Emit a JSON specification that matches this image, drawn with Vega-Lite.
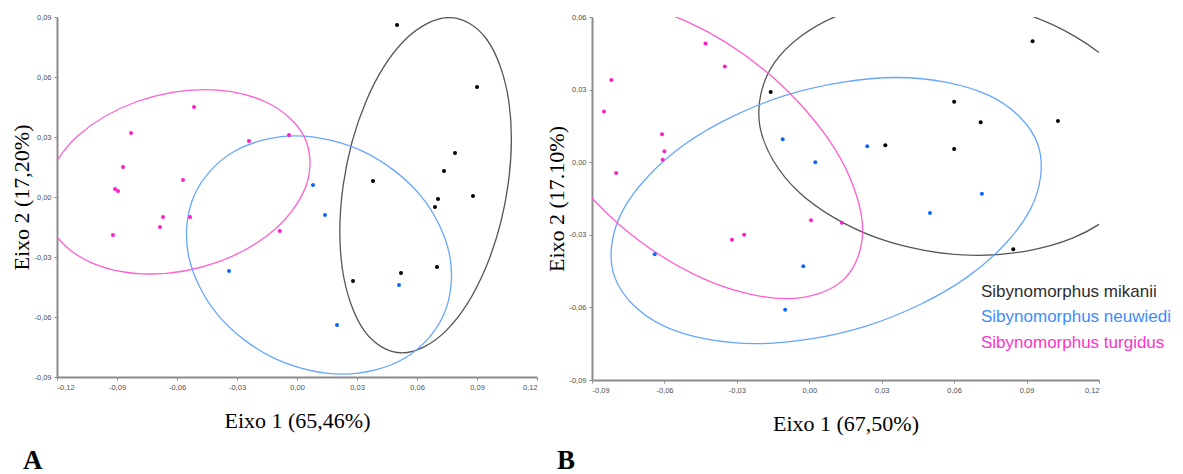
{
  "$schema": "https://vega.github.io/schema/vega-lite/v6.json",
  "padding": {"left": 10, "top": 13, "right": 0, "bottom": 0},
  "background": "#ffffff",
  "config": {
    "locale": {"number": {"decimal": ",", "thousands": ".", "grouping": [3], "currency": ["", ""], "minus": "-"}},
    "view": {"stroke": null},
    "axis": {
      "grid": false,
      "domainColor": "#8c8c8c",
      "domainWidth": 2,
      "tickColor": "#8c8c8c",
      "tickSize": 3,
      "tickWidth": 1,
      "labelFont": "Liberation Sans",
      "labelFontSize": 7.5,
      "labelColor": "#505050",
      "titleFont": "Liberation Serif",
      "titleFontSize": 22,
      "titleFontWeight": "normal",
      "titleColor": "#000000"
    },
    "axisX": {"labelPadding": 3, "titlePadding": 20},
    "axisY": {"labelPadding": 3, "titlePadding": 0},
    "legend": {
      "labelFont": "Liberation Sans",
      "labelFontSize": 17,
      "labelLimit": 0,
      "symbolSize": 0,
      "symbolOpacity": 0,
      "symbolStrokeWidth": 0,
      "labelOffset": 0,
      "rowPadding": 7.5,
      "padding": 0
    }
  },
  "datasets": {
    "pontosA": [
      {"especie": "Sibynomorphus mikanii", "eixo1": 0.050, "eixo2": 0.086},
      {"especie": "Sibynomorphus mikanii", "eixo1": 0.090, "eixo2": 0.055},
      {"especie": "Sibynomorphus mikanii", "eixo1": 0.079, "eixo2": 0.022},
      {"especie": "Sibynomorphus mikanii", "eixo1": 0.0735, "eixo2": 0.013},
      {"especie": "Sibynomorphus mikanii", "eixo1": 0.038, "eixo2": 0.008},
      {"especie": "Sibynomorphus mikanii", "eixo1": 0.088, "eixo2": 0.0005},
      {"especie": "Sibynomorphus mikanii", "eixo1": 0.0705, "eixo2": -0.001},
      {"especie": "Sibynomorphus mikanii", "eixo1": 0.069, "eixo2": -0.005},
      {"especie": "Sibynomorphus mikanii", "eixo1": 0.070, "eixo2": -0.035},
      {"especie": "Sibynomorphus mikanii", "eixo1": 0.052, "eixo2": -0.038},
      {"especie": "Sibynomorphus mikanii", "eixo1": 0.028, "eixo2": -0.042},
      {"especie": "Sibynomorphus neuwiedi", "eixo1": 0.008, "eixo2": 0.006},
      {"especie": "Sibynomorphus neuwiedi", "eixo1": 0.014, "eixo2": -0.009},
      {"especie": "Sibynomorphus neuwiedi", "eixo1": -0.034, "eixo2": -0.037},
      {"especie": "Sibynomorphus neuwiedi", "eixo1": 0.051, "eixo2": -0.044},
      {"especie": "Sibynomorphus neuwiedi", "eixo1": 0.020, "eixo2": -0.064},
      {"especie": "Sibynomorphus turgidus", "eixo1": -0.0515, "eixo2": 0.045},
      {"especie": "Sibynomorphus turgidus", "eixo1": -0.083, "eixo2": 0.032},
      {"especie": "Sibynomorphus turgidus", "eixo1": -0.024, "eixo2": 0.028},
      {"especie": "Sibynomorphus turgidus", "eixo1": -0.004, "eixo2": 0.031},
      {"especie": "Sibynomorphus turgidus", "eixo1": -0.087, "eixo2": 0.015},
      {"especie": "Sibynomorphus turgidus", "eixo1": -0.057, "eixo2": 0.0085},
      {"especie": "Sibynomorphus turgidus", "eixo1": -0.091, "eixo2": 0.004},
      {"especie": "Sibynomorphus turgidus", "eixo1": -0.0895, "eixo2": 0.003},
      {"especie": "Sibynomorphus turgidus", "eixo1": -0.067, "eixo2": -0.010},
      {"especie": "Sibynomorphus turgidus", "eixo1": -0.0535, "eixo2": -0.010},
      {"especie": "Sibynomorphus turgidus", "eixo1": -0.0685, "eixo2": -0.015},
      {"especie": "Sibynomorphus turgidus", "eixo1": -0.092, "eixo2": -0.019},
      {"especie": "Sibynomorphus turgidus", "eixo1": -0.0086, "eixo2": -0.017}
    ],
    "elipsesA": [
      {"especie": "Sibynomorphus mikanii", "ordem": 0, "eixo1": 0.0761, "eixo2": 0.0897},
      {"especie": "Sibynomorphus mikanii", "ordem": 1, "eixo1": 0.0951, "eixo2": 0.0785},
      {"especie": "Sibynomorphus mikanii", "ordem": 2, "eixo1": 0.1059, "eixo2": 0.0478},
      {"especie": "Sibynomorphus mikanii", "ordem": 3, "eixo1": 0.1055, "eixo2": 0.0059},
      {"especie": "Sibynomorphus mikanii", "ordem": 4, "eixo1": 0.0941, "eixo2": -0.036},
      {"especie": "Sibynomorphus mikanii", "ordem": 5, "eixo1": 0.0747, "eixo2": -0.0667},
      {"especie": "Sibynomorphus mikanii", "ordem": 6, "eixo1": 0.0525, "eixo2": -0.0779},
      {"especie": "Sibynomorphus mikanii", "ordem": 7, "eixo1": 0.0335, "eixo2": -0.0667},
      {"especie": "Sibynomorphus mikanii", "ordem": 8, "eixo1": 0.0227, "eixo2": -0.036},
      {"especie": "Sibynomorphus mikanii", "ordem": 9, "eixo1": 0.0231, "eixo2": 0.0059},
      {"especie": "Sibynomorphus mikanii", "ordem": 10, "eixo1": 0.0345, "eixo2": 0.0478},
      {"especie": "Sibynomorphus mikanii", "ordem": 11, "eixo1": 0.0539, "eixo2": 0.0785},
      {"especie": "Sibynomorphus neuwiedi", "ordem": 0, "eixo1": -0.0007, "eixo2": 0.0306},
      {"especie": "Sibynomorphus neuwiedi", "ordem": 1, "eixo1": 0.0335, "eixo2": 0.0226},
      {"especie": "Sibynomorphus neuwiedi", "ordem": 2, "eixo1": 0.0617, "eixo2": 0.0008},
      {"especie": "Sibynomorphus neuwiedi", "ordem": 3, "eixo1": 0.0763, "eixo2": -0.029},
      {"especie": "Sibynomorphus neuwiedi", "ordem": 4, "eixo1": 0.0734, "eixo2": -0.0588},
      {"especie": "Sibynomorphus neuwiedi", "ordem": 5, "eixo1": 0.0538, "eixo2": -0.0806},
      {"especie": "Sibynomorphus neuwiedi", "ordem": 6, "eixo1": 0.0227, "eixo2": -0.0886},
      {"especie": "Sibynomorphus neuwiedi", "ordem": 7, "eixo1": -0.0115, "eixo2": -0.0806},
      {"especie": "Sibynomorphus neuwiedi", "ordem": 8, "eixo1": -0.0397, "eixo2": -0.0588},
      {"especie": "Sibynomorphus neuwiedi", "ordem": 9, "eixo1": -0.0543, "eixo2": -0.029},
      {"especie": "Sibynomorphus neuwiedi", "ordem": 10, "eixo1": -0.0514, "eixo2": 0.0008},
      {"especie": "Sibynomorphus neuwiedi", "ordem": 11, "eixo1": -0.0317, "eixo2": 0.0226},
      {"especie": "Sibynomorphus turgidus", "ordem": 0, "eixo1": -0.0463, "eixo2": 0.0537},
      {"especie": "Sibynomorphus turgidus", "ordem": 1, "eixo1": -0.0156, "eixo2": 0.0475},
      {"especie": "Sibynomorphus turgidus", "ordem": 2, "eixo1": 0.0033, "eixo2": 0.0307},
      {"especie": "Sibynomorphus turgidus", "ordem": 3, "eixo1": 0.0052, "eixo2": 0.0076},
      {"especie": "Sibynomorphus turgidus", "ordem": 4, "eixo1": -0.0103, "eixo2": -0.0155},
      {"especie": "Sibynomorphus turgidus", "ordem": 5, "eixo1": -0.039, "eixo2": -0.0323},
      {"especie": "Sibynomorphus turgidus", "ordem": 6, "eixo1": -0.0733, "eixo2": -0.0385},
      {"especie": "Sibynomorphus turgidus", "ordem": 7, "eixo1": -0.104, "eixo2": -0.0323},
      {"especie": "Sibynomorphus turgidus", "ordem": 8, "eixo1": -0.1229, "eixo2": -0.0155},
      {"especie": "Sibynomorphus turgidus", "ordem": 9, "eixo1": -0.1248, "eixo2": 0.0076},
      {"especie": "Sibynomorphus turgidus", "ordem": 10, "eixo1": -0.1094, "eixo2": 0.0307},
      {"especie": "Sibynomorphus turgidus", "ordem": 11, "eixo1": -0.0806, "eixo2": 0.0475}
    ],
    "pontosB": [
      {"especie": "Sibynomorphus mikanii", "eixo1": 0.0925, "eixo2": 0.050},
      {"especie": "Sibynomorphus mikanii", "eixo1": -0.016, "eixo2": 0.029},
      {"especie": "Sibynomorphus mikanii", "eixo1": 0.060, "eixo2": 0.025},
      {"especie": "Sibynomorphus mikanii", "eixo1": 0.071, "eixo2": 0.0165},
      {"especie": "Sibynomorphus mikanii", "eixo1": 0.103, "eixo2": 0.017},
      {"especie": "Sibynomorphus mikanii", "eixo1": 0.0315, "eixo2": 0.007},
      {"especie": "Sibynomorphus mikanii", "eixo1": 0.060, "eixo2": 0.0055},
      {"especie": "Sibynomorphus mikanii", "eixo1": 0.0845, "eixo2": -0.036},
      {"especie": "Sibynomorphus neuwiedi", "eixo1": -0.011, "eixo2": 0.0095},
      {"especie": "Sibynomorphus neuwiedi", "eixo1": 0.0025, "eixo2": 0.000},
      {"especie": "Sibynomorphus neuwiedi", "eixo1": 0.024, "eixo2": 0.0066},
      {"especie": "Sibynomorphus neuwiedi", "eixo1": 0.0715, "eixo2": -0.013},
      {"especie": "Sibynomorphus neuwiedi", "eixo1": 0.050, "eixo2": -0.021},
      {"especie": "Sibynomorphus neuwiedi", "eixo1": -0.064, "eixo2": -0.038},
      {"especie": "Sibynomorphus neuwiedi", "eixo1": -0.0025, "eixo2": -0.043},
      {"especie": "Sibynomorphus neuwiedi", "eixo1": -0.010, "eixo2": -0.061},
      {"especie": "Sibynomorphus turgidus", "eixo1": -0.043, "eixo2": 0.049},
      {"especie": "Sibynomorphus turgidus", "eixo1": -0.035, "eixo2": 0.0395},
      {"especie": "Sibynomorphus turgidus", "eixo1": -0.082, "eixo2": 0.034},
      {"especie": "Sibynomorphus turgidus", "eixo1": -0.085, "eixo2": 0.021},
      {"especie": "Sibynomorphus turgidus", "eixo1": -0.061, "eixo2": 0.0115},
      {"especie": "Sibynomorphus turgidus", "eixo1": -0.060, "eixo2": 0.0045},
      {"especie": "Sibynomorphus turgidus", "eixo1": -0.0607, "eixo2": 0.001},
      {"especie": "Sibynomorphus turgidus", "eixo1": -0.080, "eixo2": -0.0045},
      {"especie": "Sibynomorphus turgidus", "eixo1": 0.0007, "eixo2": -0.024},
      {"especie": "Sibynomorphus turgidus", "eixo1": 0.0135, "eixo2": -0.025},
      {"especie": "Sibynomorphus turgidus", "eixo1": -0.027, "eixo2": -0.030},
      {"especie": "Sibynomorphus turgidus", "eixo1": -0.032, "eixo2": -0.032}
    ],
    "elipsesB": [
      {"especie": "Sibynomorphus mikanii", "ordem": 0, "eixo1": 0.0504, "eixo2": 0.0675},
      {"especie": "Sibynomorphus mikanii", "ordem": 1, "eixo1": 0.0920, "eixo2": 0.0604},
      {"especie": "Sibynomorphus mikanii", "ordem": 2, "eixo1": 0.1251, "eixo2": 0.041},
      {"especie": "Sibynomorphus mikanii", "ordem": 3, "eixo1": 0.1408, "eixo2": 0.0145},
      {"especie": "Sibynomorphus mikanii", "ordem": 4, "eixo1": 0.1349, "eixo2": -0.012},
      {"especie": "Sibynomorphus mikanii", "ordem": 5, "eixo1": 0.109, "eixo2": -0.0314},
      {"especie": "Sibynomorphus mikanii", "ordem": 6, "eixo1": 0.070, "eixo2": -0.0385},
      {"especie": "Sibynomorphus mikanii", "ordem": 7, "eixo1": 0.0284, "eixo2": -0.0314},
      {"especie": "Sibynomorphus mikanii", "ordem": 8, "eixo1": -0.0047, "eixo2": -0.012},
      {"especie": "Sibynomorphus mikanii", "ordem": 9, "eixo1": -0.0204, "eixo2": 0.0145},
      {"especie": "Sibynomorphus mikanii", "ordem": 10, "eixo1": -0.0145, "eixo2": 0.041},
      {"especie": "Sibynomorphus mikanii", "ordem": 11, "eixo1": 0.0114, "eixo2": 0.0604},
      {"especie": "Sibynomorphus neuwiedi", "ordem": 0, "eixo1": 0.0362, "eixo2": 0.035},
      {"especie": "Sibynomorphus neuwiedi", "ordem": 1, "eixo1": 0.0744, "eixo2": 0.0276},
      {"especie": "Sibynomorphus neuwiedi", "ordem": 2, "eixo1": 0.0946, "eixo2": 0.0075},
      {"especie": "Sibynomorphus neuwiedi", "ordem": 3, "eixo1": 0.0913, "eixo2": -0.020},
      {"especie": "Sibynomorphus neuwiedi", "ordem": 4, "eixo1": 0.0654, "eixo2": -0.0475},
      {"especie": "Sibynomorphus neuwiedi", "ordem": 5, "eixo1": 0.0239, "eixo2": -0.0676},
      {"especie": "Sibynomorphus neuwiedi", "ordem": 6, "eixo1": -0.0222, "eixo2": -0.075},
      {"especie": "Sibynomorphus neuwiedi", "ordem": 7, "eixo1": -0.0604, "eixo2": -0.0676},
      {"especie": "Sibynomorphus neuwiedi", "ordem": 8, "eixo1": -0.0806, "eixo2": -0.0475},
      {"especie": "Sibynomorphus neuwiedi", "ordem": 9, "eixo1": -0.0773, "eixo2": -0.020},
      {"especie": "Sibynomorphus neuwiedi", "ordem": 10, "eixo1": -0.0514, "eixo2": 0.0075},
      {"especie": "Sibynomorphus neuwiedi", "ordem": 11, "eixo1": -0.0099, "eixo2": 0.0276},
      {"especie": "Sibynomorphus turgidus", "ordem": 0, "eixo1": -0.0851, "eixo2": 0.0664},
      {"especie": "Sibynomorphus turgidus", "ordem": 1, "eixo1": -0.0509, "eixo2": 0.0582},
      {"especie": "Sibynomorphus turgidus", "ordem": 2, "eixo1": -0.0158, "eixo2": 0.0357},
      {"especie": "Sibynomorphus turgidus", "ordem": 3, "eixo1": 0.0109, "eixo2": 0.005},
      {"especie": "Sibynomorphus turgidus", "ordem": 4, "eixo1": 0.022, "eixo2": -0.0257},
      {"especie": "Sibynomorphus turgidus", "ordem": 5, "eixo1": 0.0145, "eixo2": -0.0482},
      {"especie": "Sibynomorphus turgidus", "ordem": 6, "eixo1": -0.0095, "eixo2": -0.0564},
      {"especie": "Sibynomorphus turgidus", "ordem": 7, "eixo1": -0.0437, "eixo2": -0.0482},
      {"especie": "Sibynomorphus turgidus", "ordem": 8, "eixo1": -0.0788, "eixo2": -0.0257},
      {"especie": "Sibynomorphus turgidus", "ordem": 9, "eixo1": -0.1055, "eixo2": 0.005},
      {"especie": "Sibynomorphus turgidus", "ordem": 10, "eixo1": -0.1166, "eixo2": 0.0357},
      {"especie": "Sibynomorphus turgidus", "ordem": 11, "eixo1": -0.1091, "eixo2": 0.0582}
    ]
  },
  "spacing": 7,
  "hconcat": [
    {
      "width": 480,
      "height": 360,
      "title": {"text": "A", "orient": "bottom", "anchor": "start", "frame": "bounds", "font": "Liberation Serif", "fontSize": 27, "fontWeight": "bold", "color": "#000000", "offset": 16, "dx": 12},
      "layer": [
        {
          "data": {"name": "elipsesA"},
          "mark": {"type": "line", "interpolate": "cardinal-closed", "clip": true, "strokeWidth": 1.3},
          "encoding": {
            "x": {"field": "eixo1", "type": "quantitative", "scale": {"domain": [-0.12, 0.12], "nice": false, "zero": false},
                  "axis": {"values": [-0.12, -0.09, -0.06, -0.03, 0, 0.03, 0.06, 0.09, 0.12], "format": ".2f", "title": "Eixo 1 (65,46%)"}},
            "y": {"field": "eixo2", "type": "quantitative", "scale": {"domain": [-0.09, 0.09], "nice": false, "zero": false},
                  "axis": {"values": [-0.09, -0.06, -0.03, 0, 0.03, 0.06, 0.09], "format": ".2f", "title": "Eixo 2 (17,20%)"}},
            "color": {"field": "especie", "type": "nominal",
                      "scale": {"domain": ["Sibynomorphus mikanii", "Sibynomorphus neuwiedi", "Sibynomorphus turgidus"], "range": ["#555555", "#66a6ff", "#ff5fcf"]},
                      "legend": null},
            "order": {"field": "ordem", "type": "quantitative"}
          }
        },
        {
          "data": {"name": "pontosA"},
          "mark": {"type": "circle", "size": 16, "opacity": 1},
          "encoding": {
            "x": {"field": "eixo1", "type": "quantitative"},
            "y": {"field": "eixo2", "type": "quantitative"},
            "color": {"field": "especie", "type": "nominal",
                      "scale": {"domain": ["Sibynomorphus mikanii", "Sibynomorphus neuwiedi", "Sibynomorphus turgidus"], "range": ["#000000", "#0a66ff", "#ff1ec8"]},
                      "legend": null}
          }
        }
      ],
      "resolve": {"scale": {"color": "independent"}}
    },
    {
      "width": 507,
      "height": 363,
      "title": {"text": "B", "orient": "bottom", "anchor": "start", "frame": "bounds", "font": "Liberation Serif", "fontSize": 27, "fontWeight": "bold", "color": "#000000", "offset": 13, "dx": 11},
      "layer": [
        {
          "data": {"name": "elipsesB"},
          "mark": {"type": "line", "interpolate": "cardinal-closed", "clip": true, "strokeWidth": 1.3},
          "encoding": {
            "x": {"field": "eixo1", "type": "quantitative", "scale": {"domain": [-0.09, 0.12], "nice": false, "zero": false},
                  "axis": {"values": [-0.09, -0.06, -0.03, 0, 0.03, 0.06, 0.09, 0.12], "format": ".2f", "title": "Eixo 1 (67,50%)"}},
            "y": {"field": "eixo2", "type": "quantitative", "scale": {"domain": [-0.09, 0.06], "nice": false, "zero": false},
                  "axis": {"values": [-0.09, -0.06, -0.03, 0, 0.03, 0.06], "format": ".2f", "title": "Eixo 2 (17.10%)"}},
            "color": {"field": "especie", "type": "nominal",
                      "scale": {"domain": ["Sibynomorphus mikanii", "Sibynomorphus neuwiedi", "Sibynomorphus turgidus"], "range": ["#555555", "#66a6ff", "#ff5fcf"]},
                      "legend": null},
            "order": {"field": "ordem", "type": "quantitative"}
          }
        },
        {
          "data": {"name": "pontosB"},
          "mark": {"type": "circle", "size": 16, "opacity": 1},
          "encoding": {
            "x": {"field": "eixo1", "type": "quantitative"},
            "y": {"field": "eixo2", "type": "quantitative"},
            "color": {"field": "especie", "type": "nominal",
                      "scale": {"domain": ["Sibynomorphus mikanii", "Sibynomorphus neuwiedi", "Sibynomorphus turgidus"], "range": ["#000000", "#0a66ff", "#ff1ec8"]},
                      "legend": {
                        "title": null,
                        "orient": "none",
                        "legendX": 372,
                        "legendY": 266,
                        "encode": {"labels": {"update": {"fill": {"signal": "datum.value === 'Sibynomorphus mikanii' ? '#2e2e2e' : datum.value === 'Sibynomorphus neuwiedi' ? '#3d8cff' : '#ff33cc'"}}}}
                      }}
          }
        }
      ],
      "resolve": {"scale": {"color": "independent"}}
    }
  ],
  "resolve": {"scale": {"color": "independent"}, "legend": {"color": "independent"}}
}
